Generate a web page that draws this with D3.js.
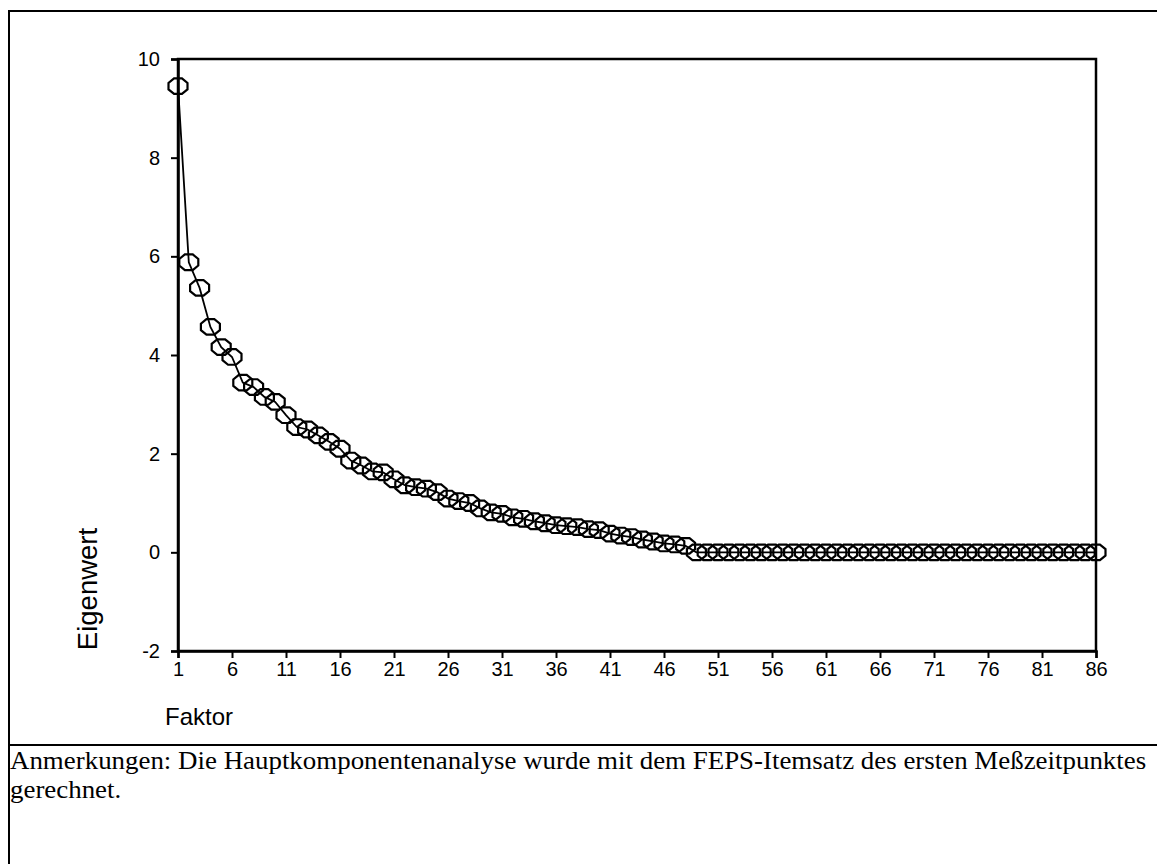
<!DOCTYPE html>
<html>
<head>
<meta charset="utf-8">
<script src="https://cdn.jsdelivr.net/npm/d3@7/dist/d3.min.js"></script>
<style>
  html, body { margin: 0; padding: 0; background: #fff; }
  svg { display: block; }
</style>
</head>
<body>
<script>
// Eigenvalues of the principal component analysis (scree plot)
const factors = d3.range(1, 87);
const eigenvalues = [
  9.45, 5.88, 5.36, 4.57, 4.16, 3.96, 3.44, 3.35, 3.15, 3.05,
  2.78, 2.54, 2.49, 2.37, 2.24, 2.10, 1.86, 1.76, 1.64, 1.62,
  1.48, 1.36, 1.32, 1.29, 1.22, 1.09, 1.04, 1.00, 0.89, 0.81,
  0.78, 0.71, 0.68, 0.63, 0.59, 0.55, 0.53, 0.51, 0.47, 0.45,
  0.38, 0.34, 0.31, 0.26, 0.22, 0.18, 0.16, 0.13, 0.00, 0.00,
  0.00, 0.00, 0.00, 0.00, 0.00, 0.00, 0.00, 0.00, 0.00, 0.00,
  0.00, 0.00, 0.00, 0.00, 0.00, 0.00, 0.00, 0.00, 0.00, 0.00,
  0.00, 0.00, 0.00, 0.00, 0.00, 0.00, 0.00, 0.00, 0.00, 0.00,
  0.00, 0.00, 0.00, 0.00, 0.00, 0.00
];
const xTicks = [1, 6, 11, 16, 21, 26, 31, 36, 41, 46, 51, 56, 61, 66, 71, 76, 81, 86];
const yTicks = [-2, 0, 2, 4, 6, 8, 10];
const xTitle = "Faktor";
const yTitle = "Eigenwert";
const noteLines = [
  "Anmerkungen: Die Hauptkomponentenanalyse wurde mit dem FEPS-Itemsatz des ersten Meßzeitpunktes",
  "gerechnet."
];

const W = 1157, H = 864;
const svg = d3.select("body").append("svg").attr("width", W).attr("height", H);

// outer frame and note separator
const frame = svg.append("g").attr("stroke", "#000").attr("stroke-width", 2);
frame.append("line").attr("x1", 9).attr("x2", W).attr("y1", 11).attr("y2", 11);
frame.append("line").attr("x1", 9).attr("x2", 9).attr("y1", 10).attr("y2", H);
frame.append("line").attr("x1", 9).attr("x2", W).attr("y1", 745).attr("y2", 745);

const plot = { left: 178, right: 1096, top: 59, bottom: 651 };
const x = d3.scaleLinear().domain([1, 86]).range([plot.left, plot.right]);
const y = d3.scaleLinear().domain([-2, 10]).range([plot.bottom, plot.top]);

// plot box
svg.append("rect")
  .attr("x", plot.left).attr("y", plot.top)
  .attr("width", plot.right - plot.left).attr("height", plot.bottom - plot.top)
  .attr("fill", "none").attr("stroke", "#000").attr("stroke-width", 2.5);

const tickFont = "'Liberation Sans', Arial, sans-serif";

const xAxis = svg.append("g")
  .attr("transform", `translate(0,${plot.bottom})`)
  .call(d3.axisBottom(x).tickValues(xTicks).tickSize(7).tickPadding(4).tickFormat(d => String(d)));
const yAxis = svg.append("g")
  .attr("transform", `translate(${plot.left},0)`)
  .call(d3.axisLeft(y).tickValues(yTicks).tickSize(7).tickPadding(11).tickFormat(d => String(d)));
[xAxis, yAxis].forEach(g => {
  g.select(".domain").attr("stroke-width", 2.5);
  g.selectAll(".tick line").attr("stroke-width", 2);
  g.selectAll(".tick text").attr("font-family", tickFont).attr("font-size", 20).attr("fill", "#000");
});

// series line
svg.append("path")
  .datum(factors)
  .attr("fill", "none").attr("stroke", "#000").attr("stroke-width", 1.8)
  .attr("d", d3.line().x(d => x(d)).y((d, i) => y(eigenvalues[i])));

// octagon markers
const rx = 9.5, ry = 7.8;
const octagon = d3.range(8).map(k => {
  const a = Math.PI / 8 + k * Math.PI / 4;
  return [rx * Math.cos(a) / Math.cos(Math.PI / 8), ry * Math.sin(a) / Math.cos(Math.PI / 8)];
});
const octPath = "M" + octagon.map(p => p.join(",")).join("L") + "Z";
svg.append("g").selectAll("path")
  .data(factors)
  .join("path")
  .attr("transform", (d, i) => `translate(${x(d)},${y(eigenvalues[i])})`)
  .attr("d", octPath)
  .attr("fill", "none").attr("stroke", "#000").attr("stroke-width", 2.2);

// axis titles
svg.append("text")
  .attr("x", 165).attr("y", 725)
  .attr("font-family", tickFont).attr("font-size", 24).text(xTitle);
svg.append("text")
  .attr("transform", "translate(97,589) rotate(-90)")
  .attr("text-anchor", "middle")
  .attr("font-family", tickFont).attr("font-size", 27.5).text(yTitle);

// note below the chart: serif, first line spans the full width
const noteFont = "'Liberation Serif', 'Times New Roman', serif";
const noteSize = 24.5;
const l1 = svg.append("text")
  .attr("x", 10).attr("y", 769)
  .attr("font-family", noteFont).attr("font-size", noteSize).text(noteLines[0]);
const stretch = 1137 / l1.node().getComputedTextLength();
const stretchAt10 = `translate(10,0) scale(${stretch},1) translate(-10,0)`;
l1.attr("transform", stretchAt10);
svg.append("text")
  .attr("x", 10).attr("y", 798)
  .attr("transform", stretchAt10)
  .attr("font-family", noteFont).attr("font-size", noteSize).text(noteLines[1]);
</script>
</body>
</html>
